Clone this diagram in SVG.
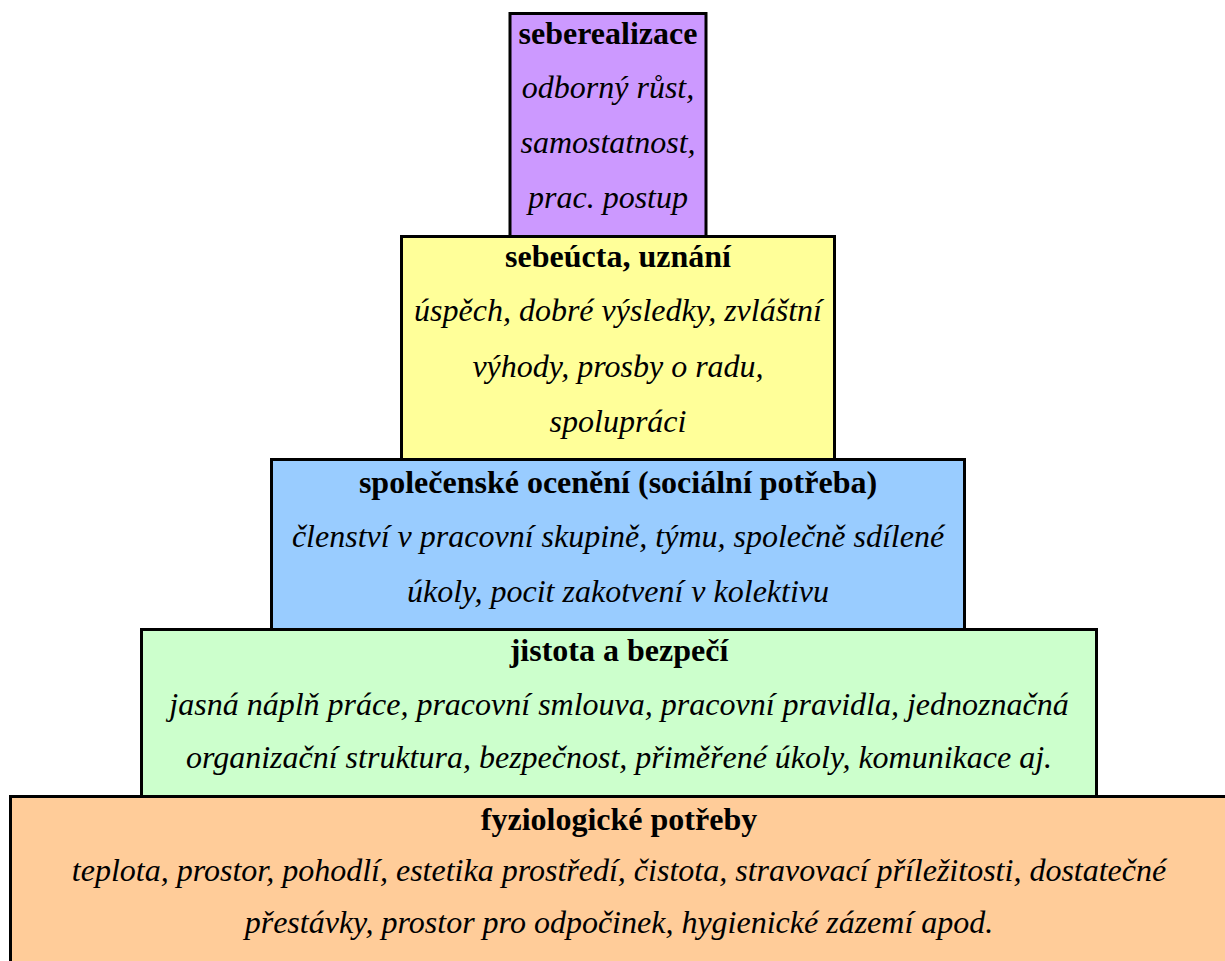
<svg xmlns="http://www.w3.org/2000/svg" width="1225" height="961" viewBox="0 0 1225 961">
  <style>
    .lvl { stroke: #000; stroke-width: 3; }
    .t { font-family: "Liberation Serif", "Times New Roman", serif; font-size: 32px; font-weight: bold; fill: #000; text-anchor: middle; }
    .d { font-family: "Liberation Serif", "Times New Roman", serif; font-size: 32px; font-style: italic; fill: #000; text-anchor: middle; }
  </style>
  <rect width="1225" height="961" fill="#fff"/>

  <!-- Maslow pyramid: widest level at the bottom, drawn top-down so lower levels overlap -->
  <g id="seberealizace">
    <rect class="lvl" x="510" y="13.5" width="196" height="230" fill="#CC99FF"/>
    <text class="t" x="608" y="44">seberealizace</text>
    <text class="d" x="608" y="98">odborný růst,</text>
    <text class="d" x="608" y="153">samostatnost,</text>
    <text class="d" x="608" y="208">prac. postup</text>
  </g>

  <g id="sebeucta">
    <rect class="lvl" x="401.5" y="236.5" width="433" height="230" fill="#FFFF99"/>
    <text class="t" x="618" y="267">sebeúcta, uznání</text>
    <text class="d" x="618" y="321">úspěch, dobré výsledky, zvláštní</text>
    <text class="d" x="618" y="377">výhody, prosby o radu,</text>
    <text class="d" x="618" y="432">spolupráci</text>
  </g>

  <g id="socialni">
    <rect class="lvl" x="271.5" y="459.5" width="693" height="175" fill="#99CCFF"/>
    <text class="t" x="618" y="493">společenské ocenění (sociální potřeba)</text>
    <text class="d" x="618" y="547">členství v pracovní skupině, týmu, společně sdílené</text>
    <text class="d" x="618" y="602">úkoly, pocit zakotvení v kolektivu</text>
  </g>

  <g id="jistota">
    <rect class="lvl" x="141.5" y="629.5" width="955" height="175" fill="#CCFFCC"/>
    <text class="t" x="619" y="661">jistota a bezpečí</text>
    <text class="d" x="619" y="715">jasná náplň práce, pracovní smlouva, pracovní pravidla, jednoznačná</text>
    <text class="d" x="619" y="768">organizační struktura, bezpečnost, přiměřené úkoly, komunikace aj.</text>
  </g>

  <g id="fyziologicke">
    <rect class="lvl" x="10.5" y="796.5" width="1240" height="200" fill="#FFCC99"/>
    <text class="t" x="619" y="830">fyziologické potřeby</text>
    <text class="d" x="619" y="881">teplota, prostor, pohodlí, estetika prostředí, čistota, stravovací příležitosti, dostatečné</text>
    <text class="d" x="619" y="933">přestávky, prostor pro odpočinek, hygienické zázemí apod.</text>
  </g>

  <g id="connectors"/>
</svg>
